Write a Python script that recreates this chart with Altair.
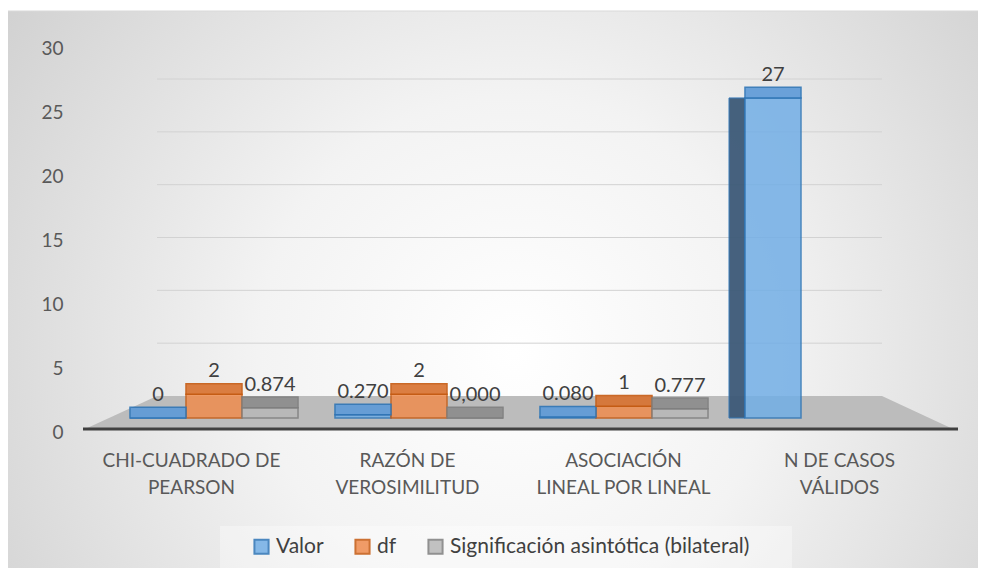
import altair as alt
import pandas as pd

# ---- data ----
categories = ["CHI-CUADRADO DE|PEARSON", "RAZÓN DE|VEROSIMILITUD",
              "ASOCIACIÓN|LINEAL POR LINEAL", "N DE CASOS|VÁLIDOS"]
series = ["Valor", "df", "Significación asintótica (bilateral)"]
valor = [0, 0.270, 0.080, 27]
valor_text = ["0", "0.270", "0.080", "27"]
df_vals = [2, 2, 1, None]
df_text = ["2", "2", "1", None]
sig_vals = [0.874, 0.000, 0.777, None]
sig_text = ["0.874", "0,000", "0.777", None]
y_ticks = [0, 5, 10, 15, 20, 25, 30]
grid_vals = [5, 10, 15, 20, 25, 30]

rows = []
for s, vals, txts in zip(series, [valor, df_vals, sig_vals], [valor_text, df_text, sig_text]):
    for c, v, t in zip(categories, vals, txts):
        if v is not None:
            rows.append({"cat": c, "serie": s, "v": v, "label": t})
data = pd.DataFrame(rows)

# ---- styling ----
FONT = "Lato"
front_colors = ["#72aee6", "#ef8c4e", "#b8b8b8"]
top_colors = ["#5d9ad8", "#d8712f", "#8c8c8c"]
stroke_colors = ["#2e75b6", "#c55a11", "#7f7f7f"]
W, H = 875, 383

# decorative floor (trapezoid) in pixel space
floor = pd.DataFrame({"fx": [2, 74, 799, 870], "fy": [383, 350, 350, 383], "fy2": [383, 383, 383, 383]})

bg = alt.Chart(pd.DataFrame({"a": [0]})).mark_rect(
    fill=alt.RadialGradient(
        gradient="radial",
        stops=[alt.GradientStop(color="#ffffff", offset=0),
               alt.GradientStop(color="#f3f3f3", offset=0.35),
               alt.GradientStop(color="#c6c6c6", offset=1)],
        x1=0.52, y1=0.56, x2=0.52, y2=0.56, r1=0, r2=0.75),
    stroke="#d9d9d9", strokeWidth=1,
).encode(x=alt.value(-76), x2=alt.value(900), y=alt.value(-35), y2=alt.value(530))

floor_l = alt.Chart(floor).mark_area(color="#bcbcbc").encode(
    x=alt.X("fx:Q", scale=None), y=alt.Y("fy:Q", scale=None), y2="fy2:Q")

legend_box = alt.Chart(pd.DataFrame({"a": [0]})).mark_rect(fill="#ffffff", opacity=0.35).encode(
    x=alt.value(137), x2=alt.value(709), y=alt.value(480), y2=alt.value(540))

grid = alt.Chart(pd.DataFrame({"g": grid_vals})).mark_rule(color="#d2d2d2", strokeWidth=1).encode(
    y=alt.Y("g:Q", scale=alt.Scale(domain=[0, 30], range=[350, 33]), axis=None),
    x=alt.value(74), x2=alt.value(799))

axis_layer = alt.Chart(data).mark_point(opacity=0).encode(
    x=alt.X("cat:N", sort=None, scale=alt.Scale(domain=categories, range=[0, 864], paddingInner=0, paddingOuter=0),
            axis=alt.Axis(title=None, labelExpr="split(datum.label, '|')", labelAngle=0,
                          labelFontSize=19, labelFont=FONT, labelColor="#595959",
                          labelPadding=22, labelBaseline="top", labelLineHeight=27,
                          ticks=False, domain=False, grid=False, labelLimit=300, zindex=1)),
    y=alt.Y("v:Q", scale=alt.Scale(domain=[0, 30], range=[386, 2]),
            axis=alt.Axis(title=None, values=y_ticks, labelFontSize=19, labelFont=FONT,
                          labelColor="#595959", labelPadding=20, ticks=False,
                          domain=False, grid=False, zindex=1)),
)

axis_line = alt.Chart(pd.DataFrame({"a": [0]})).mark_rule(color="#404040", strokeWidth=3).encode(
    x=alt.value(0), x2=alt.value(W), y=alt.value(383))

bar_x = alt.X("cat:N", sort=None, axis=None,
              scale=alt.Scale(domain=categories, range=[28.5, 848.5], paddingInner=0, paddingOuter=0))
bar_y_scale = alt.Scale(domain=[0, 30], range=[372, 16.4])
bar_xo = alt.XOffset("serie:N", sort=None,
                     scale=alt.Scale(domain=series, paddingInner=0, paddingOuter=0.33))

side = alt.Chart(data).transform_filter("datum.serie == 'Valor' && datum.v > 10").mark_bar(
    color="#3d5a78", opacity=0.95, stroke="#2e75b6", strokeWidth=1).encode(
    x=bar_x,
    xOffset=alt.XOffset("serie:N", sort=None,
                        scale=alt.Scale(domain=series, range=[2.5, 50.5], paddingInner=0, paddingOuter=0)),
    y=alt.Y("v:Q", scale=bar_y_scale, axis=None))

legend = alt.Legend(orient="none", legendX=168, legendY=490, direction="horizontal", title=None,
                    symbolType="square", symbolSize=200, symbolStrokeWidth=2,
                    labelFontSize=21, labelFont=FONT, labelColor="#404040", labelLimit=500,
                    columnPadding=27, labelOffset=4)

front = alt.Chart(data).mark_bar(opacity=0.85, strokeWidth=1.5).encode(
    x=bar_x, xOffset=bar_xo,
    y=alt.Y("v:Q", scale=bar_y_scale, axis=None),
    color=alt.Color("serie:N", sort=None, scale=alt.Scale(domain=series, range=front_colors), legend=legend),
    stroke=alt.Stroke("serie:N", sort=None, scale=alt.Scale(domain=series, range=stroke_colors), legend=legend),
)

top = alt.Chart(data).transform_calculate(top="datum.v + 0.9").mark_bar(opacity=0.9, strokeWidth=1.5).encode(
    x=bar_x, xOffset=bar_xo,
    y=alt.Y("v:Q", scale=bar_y_scale, axis=None), y2="top:Q",
    fill=alt.Fill("serie:N", sort=None, scale=alt.Scale(domain=series, range=top_colors), legend=None),
    stroke=alt.Stroke("serie:N", sort=None, scale=alt.Scale(domain=series, range=stroke_colors), legend=legend),
)

labels = alt.Chart(data).mark_text(dy=-17, baseline="alphabetic", fontSize=20, font=FONT,
                                   color="#404040").encode(
    x=bar_x, xOffset=bar_xo,
    y=alt.Y("v:Q", scale=bar_y_scale, axis=None),
    text="label:N")

bars_group = alt.layer(front, top, labels)

chart = alt.layer(bg, floor_l, legend_box, grid, axis_layer, axis_line, side, bars_group).resolve_scale(
    x="independent", y="independent", xOffset="independent"
).properties(
    width=W, height=H,
    padding={"left": 75, "top": 38, "right": 20, "bottom": 139},
    autosize=alt.AutoSizeParams(type="none"),
    background="white",
).configure_view(stroke=None)

chart.save("out.html", embed_options={"renderer": "svg", "actions": False})
